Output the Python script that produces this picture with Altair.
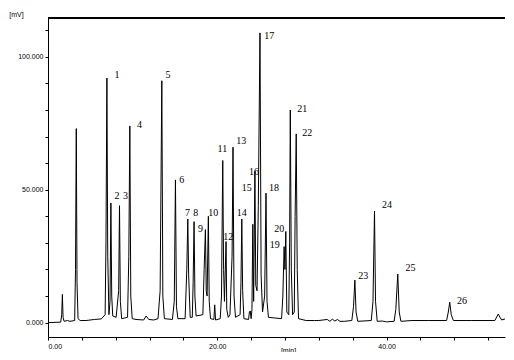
import altair as alt
import pandas as pd

# Chromatogram trace (retention time in min, signal in mV)
trace_t = [0.0, 1.5, 1.62, 1.7, 1.78, 1.9, 2.3, 2.6, 3.15, 3.25, 3.34, 3.43, 3.55, 3.8, 4.5, 5.5,
           6.3, 6.75, 6.85, 6.96, 7.06, 7.2, 7.33, 7.43, 7.53, 7.65, 8.05, 8.35, 8.45, 8.55, 8.7,
           9.4, 9.55, 9.67, 9.78, 9.95, 10.4, 11.3, 11.6, 11.9, 12.5, 13.0, 13.25, 13.45, 13.57,
           13.75, 14.7, 14.92, 15.06, 15.18, 15.35, 16.2, 16.4, 16.52, 16.62, 16.8, 17.05, 17.15,
           17.26, 17.36, 17.5, 18.3, 18.45, 18.6, 18.7, 18.8, 18.95, 19.05, 19.2, 19.6, 19.7, 19.8,
           20.35, 20.5, 20.65, 20.75, 20.85, 21.04, 21.12, 21.3, 21.5, 21.75, 21.86, 21.98, 22.15,
           22.7, 22.8, 22.9, 23.0, 23.15, 23.7, 23.8, 23.9, 24.0, 24.1, 24.2, 24.3, 24.45, 24.55,
           24.7, 24.85, 25.05, 25.18, 25.35, 25.6, 25.76, 25.88, 26.05, 27.6, 27.75, 27.9, 28.0,
           28.1, 28.22, 28.45, 28.55, 28.63, 28.75, 28.9, 29.1, 29.2, 29.33, 29.45, 29.6, 30.5,
           31.5, 32.0, 33.0, 33.3, 33.6, 33.9, 34.2, 34.5, 35.0, 35.9, 36.1, 36.26, 36.4, 36.6,
           38.2, 38.4, 38.58, 38.7, 38.9, 39.5, 40.0, 40.9, 41.1, 41.33, 41.5, 41.7, 43.0, 45.0,
           47.1, 47.3, 47.47, 47.65, 47.9, 50.0, 52.8, 53.2, 53.6, 54.0]
trace_mv = [0.0, 0.2, 3, 10.6, 2, 0.5, 0.8, 0.5, 0.8, 20, 73, 15, 1.5, 0.8, 0.8, 1.2,
            1.4, 3, 30, 92, 25, 3, 8, 45, 10, 2.5, 2, 12, 44, 8, 1.5,
            2, 25, 74, 10, 1.5, 1.2, 1.0, 2.5, 1.2, 1.0, 1.5, 12, 91, 10,
            1.5, 1.2, 8, 53.7, 6, 1.5, 1.5, 20, 39, 18, 2, 2, 15,
            38, 10, 2.5, 3, 20, 35, 12, 10, 40, 8, 1.5, 1.2, 6.7, 1.0,
            1.5, 10, 61, 20, 8, 30.5, 5, 2, 3, 25, 66, 10, 2,
            3, 15, 39, 12, 1.5, 1.2, 4, 4.4, 1.5, 5, 37, 8, 57, 14,
            12, 44, 109, 18, 4, 10, 48.7, 8, 2, 1.5, 10, 28.6, 20,
            34.3, 4, 3, 30, 80, 20, 3, 4, 40, 71, 20, 1.5, 0.8,
            0.8, 0.8, 1.2, 0.5, 1.3, 0.6, 1.2, 0.5, 0.5, 0.8, 6, 16, 4, 0.5,
            0.8, 8, 42, 8, 0.5, 0.6, 0.3, 0.5, 5, 18.3, 4, 0.5, 0.8, 0.8,
            0.8, 4, 7.7, 3, 0.8, 0.8, 0.8, 3.2, 1.0, 1.4]

# Peak numbers and where their labels sit (time, mV)
peak_labels = [str(i) for i in range(1, 27)]
label_t = [8.14, 8.14, 9.16, 10.81, 14.19, 15.8, 16.47, 17.46, 18.01, 19.54, 20.6, 21.31, 22.84,
           22.89, 23.48, 24.34, 26.15, 26.7, 26.78, 27.33, 30.04, 30.63, 37.24, 40.07, 42.83, 48.92]
label_mv = [93.0, 47.5, 47.5, 74.3, 93.0, 53.7, 41.4, 41.4, 35.3, 41.4, 65.5, 32.2, 68.5,
            41.2, 50.6, 56.6, 108.0, 50.6, 29.2, 35.3, 80.4, 71.3, 17.6, 44.3, 20.5, 8.2]

x_ticks = list(range(0, 53, 4))
y_ticks = list(range(0, 111, 10))

W, H = 457, 319

trace = pd.DataFrame({"t": trace_t, "mv": trace_mv})
labels = pd.DataFrame({"label": peak_labels, "t": label_t, "mv": label_mv})

xscale = alt.Scale(domain=[0, 54], nice=False, zero=False)
yscale = alt.Scale(domain=[-5.4, 114.6], nice=False, zero=False)

xaxis = alt.Axis(values=x_ticks, title="[min]", grid=False,
                 labelExpr="datum.value % 20 == 0 ? format(datum.value, '.2f') : ''",
                 tickSize=3, labelPadding=2, labelFont="Liberation Sans", labelFontSize=7,
                 titleFont="Liberation Sans", titleFontSize=7, titleFontWeight="normal",
                 titleX=240, titleY=13, titleBaseline="middle", titleAlign="center",
                 domainColor="black", tickColor="black", labelColor="black", titleColor="black",
                 labelOverlap=False)
yaxis = alt.Axis(values=y_ticks, title="[mV]", grid=False,
                 labelExpr="datum.value % 50 == 0 ? format(datum.value, '.3f') : ''",
                 tickSize=3, labelPadding=2, labelFont="Liberation Sans", labelFontSize=7,
                 titleFont="Liberation Sans", titleFontSize=7, titleFontWeight="normal",
                 titleAngle=0, titleX=-32, titleY=-4, titleAlign="center", titleBaseline="middle",
                 domainColor="black", tickColor="black", labelColor="black", titleColor="black",
                 labelOverlap=False)

line = alt.Chart(trace).mark_line(color="black", strokeWidth=1).encode(
    x=alt.X("t:Q", scale=xscale, axis=xaxis),
    y=alt.Y("mv:Q", scale=yscale, axis=yaxis),
    order="t:Q",
)

text = alt.Chart(labels).mark_text(font="Liberation Serif", fontSize=10, color="black",
                                   align="center", baseline="middle").encode(
    x=alt.X("t:Q", scale=xscale, axis=xaxis),
    y=alt.Y("mv:Q", scale=yscale, axis=yaxis),
    text="label:N",
)

frame_top = alt.Chart(trace).mark_rule(color="black", strokeWidth=1).encode(
    x=alt.value(0), x2=alt.value(W), y=alt.value(0)
)

chart = alt.layer(line, text, frame_top).properties(
    width=W, height=H,
    autosize=alt.AutoSizeParams(type="none"),
    padding={"left": 40, "top": 10, "right": 1, "bottom": 15},
).configure_view(stroke=None).configure_axis(labelOverlap=False)

chart.save("out.html", embed_options={"renderer": "svg", "actions": False})
